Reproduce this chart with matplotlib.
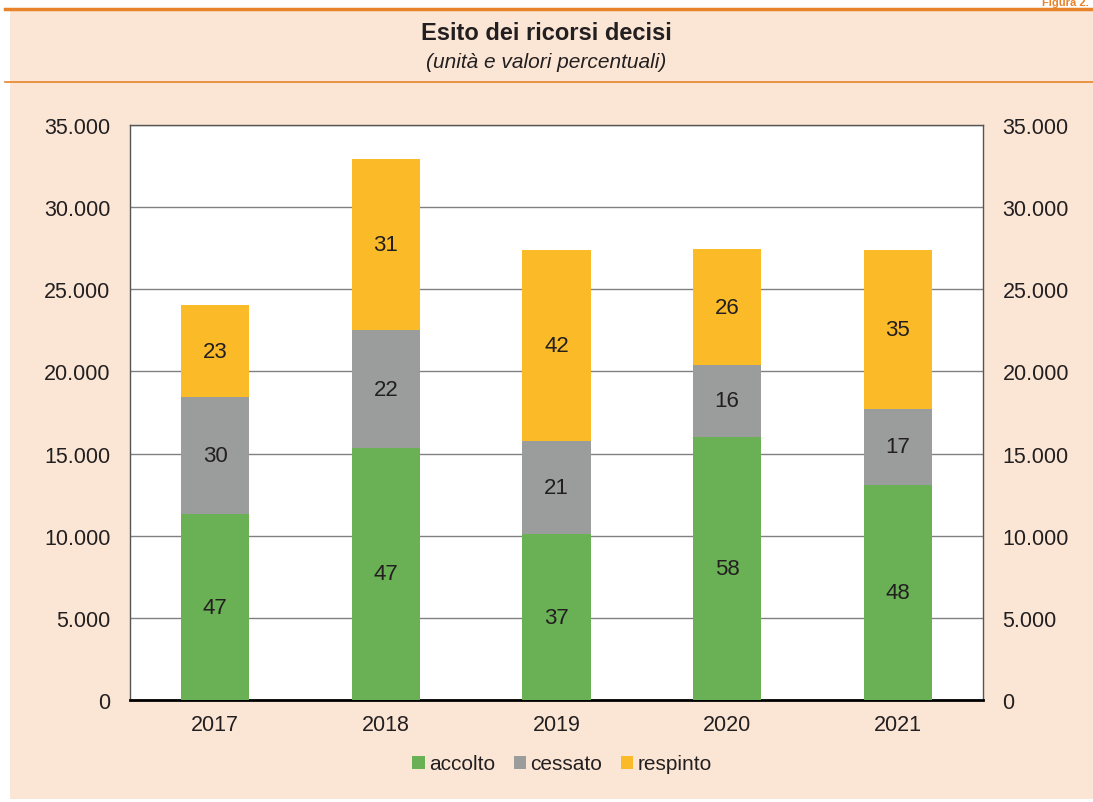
import matplotlib.pyplot as plt
from matplotlib.patches import Rectangle
from matplotlib.lines import Line2D

plt.rcParams['font.family'] = ['Liberation Sans', 'DejaVu Sans']

anni = ['2017', '2018', '2019', '2020', '2021']
accolto = [11320, 15340, 10100, 16010, 13090]
cessato = [7120, 7180, 5660, 4380, 4620]
respinto = [5600, 10410, 11630, 7060, 9690]
perc_accolto = [47, 47, 37, 58, 48]
perc_cessato = [30, 22, 21, 16, 17]
perc_respinto = [23, 31, 42, 26, 35]

verde = '#6ab155'
grigio = '#9a9d9c'
giallo = '#fbbb29'
sfondo = '#fbe6d5'
arancio = '#e8832a'
testo = '#231f20'

W, H = 1093, 803
fig = plt.figure(figsize=(W / 100, H / 100), dpi=100)
fig.patch.set_facecolor('white')

# pannello color pesca
fig.patches.append(Rectangle((10 / W, 1 - 800 / H), 1 - 10 / W, (800 - 10) / H,
                             transform=fig.transFigure, facecolor=sfondo,
                             edgecolor='none', zorder=-5))
fig.lines.append(Line2D([5 / W, 1], [1 - 10 / H, 1 - 10 / H], transform=fig.transFigure,
                        color=arancio, lw=2.5))
fig.lines.append(Line2D([5 / W, 1], [1 - 83 / H, 1 - 83 / H], transform=fig.transFigure,
                        color=arancio, lw=1.2))
fig.text(1 - 4 / W, 1 - 8.5 / H, 'Figura 2.', color=arancio, fontsize=8, fontweight='bold',
         ha='right', va='bottom')

fig.text(0.5, 1 - 33 / H, 'Esito dei ricorsi decisi', ha='center', va='center',
         fontsize=17, fontweight='bold', color=testo)
fig.text(0.5, 1 - 62 / H, '(unità e valori percentuali)', ha='center', va='center',
         fontsize=15, style='italic', color=testo)

ax = fig.add_axes([130 / W, 1 - 701 / H, (983 - 130) / W, (701 - 126) / H])
ax.set_zorder(2)
ax.set_facecolor('white')
x = range(len(anni))
w = 0.4
b1 = ax.bar(x, accolto, w, color=verde, label='accolto', zorder=3)
base2 = [a for a in accolto]
b2 = ax.bar(x, cessato, w, bottom=base2, color=grigio, label='cessato', zorder=3)
base3 = [a + c for a, c in zip(accolto, cessato)]
b3 = ax.bar(x, respinto, w, bottom=base3, color=giallo, label='respinto', zorder=3)

for i in x:
    ax.text(i, accolto[i] / 2, str(perc_accolto[i]), ha='center', va='center',
            fontsize=16, color=testo, zorder=4)
    ax.text(i, base2[i] + cessato[i] / 2, str(perc_cessato[i]), ha='center', va='center',
            fontsize=16, color=testo, zorder=4)
    ax.text(i, base3[i] + respinto[i] / 2, str(perc_respinto[i]), ha='center', va='center',
            fontsize=16, color=testo, zorder=4)

ax.set_xlim(-0.5, 4.5)
ax.set_ylim(0, 35000)
ticks = list(range(0, 35001, 5000))
labels = ['0' if t == 0 else f'{t:,}'.replace(',', '.') for t in ticks]
ax.set_yticks(ticks)
ax.set_yticklabels(labels)
ax.set_xticks(list(x))
ax.set_xticklabels(anni)
ax.grid(axis='y', color='#808080', lw=1, zorder=1)
ax.tick_params(axis='both', length=0, labelsize=15.5, colors=testo)
ax.tick_params(axis='y', pad=14, labelright=True)
ax.tick_params(axis='x', pad=10)
for s in ['left', 'top', 'right']:
    ax.spines[s].set_color('#555555')
    ax.spines[s].set_linewidth(1)
ax.spines['bottom'].set_color('black')
ax.spines['bottom'].set_linewidth(2)

leg = fig.legend(handles=[b1, b2, b3], loc='center', bbox_to_anchor=(562 / W, 1 - 765 / H),
                 ncol=3, frameon=False, fontsize=15, handlelength=0.6, handleheight=0.6,
                 handletextpad=0.2, columnspacing=0.9)
for t in leg.get_texts():
    t.set_color(testo)

fig.savefig('out.png', dpi=100, facecolor=fig.get_facecolor())
